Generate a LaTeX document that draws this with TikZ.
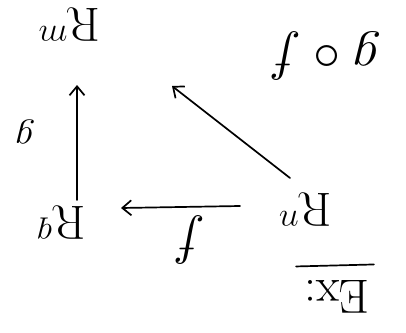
\documentclass[tikz,border=0pt]{standalone}
\usepackage{fix-cm}
\usepackage{graphicx}
\usetikzlibrary{arrows.meta,calc}
\tikzset{
  txt/.style={inner sep=0pt, font=\fontsize{48}{52}\selectfont},
  bigtxt/.style={inner sep=0pt, font=\fontsize{54}{58}\selectfont},
  smalltxt/.style={inner sep=0pt, font=\fontsize{38}{42}\selectfont},
  pen/.style={line width=1.7pt, line cap=round},
  arr/.style={pen, -{Straight Barb[length=9pt,width=15pt,line width=1.7pt]}},
}
\newcommand{\upd}[1]{\rotatebox{180}{#1}}
\begin{document}
\begin{tikzpicture}[x=1pt,y=-1pt]
\useasboundingbox (0,0) rectangle (406,332);
% objects (the whole sketch is upside down)
\node[txt] (A) at (69,25)  {\upd{$\mathrm{R}^m$}};
\node[txt] (B) at (61,223) {\upd{$\mathrm{R}^q$}};
\node[txt] (C) at (305,210) {\upd{$\mathrm{R}^n$}};
% labels
\node[bigtxt] (lf)  at (190,240) {\upd{$f$}};
\node[smalltxt] (lg)  at (25,132)  {\upd{$g$}};
\node[bigtxt] (lgf) at (325,56)  {\upd{$g\mathbin{\circ} f$}};
\node[txt] (ex)  at (337,297) {\upd{Ex:}};
% arrows
\draw[arr] ($(B)+(16,-23)$) -- ($(A)+(8,60)$);
\draw[arr] ($(C)+(-65,-4)$) -- ($(B)+(60,-15)$);
\draw[arr] ($(C)+(-15,-32)$) -- ($(A)+(103,61)$);
% underline of the heading
\draw[pen] ($(ex.north west)+(-8,-14)$) -- ($(ex.north east)+(4,-16)$);
\end{tikzpicture}
\end{document}
